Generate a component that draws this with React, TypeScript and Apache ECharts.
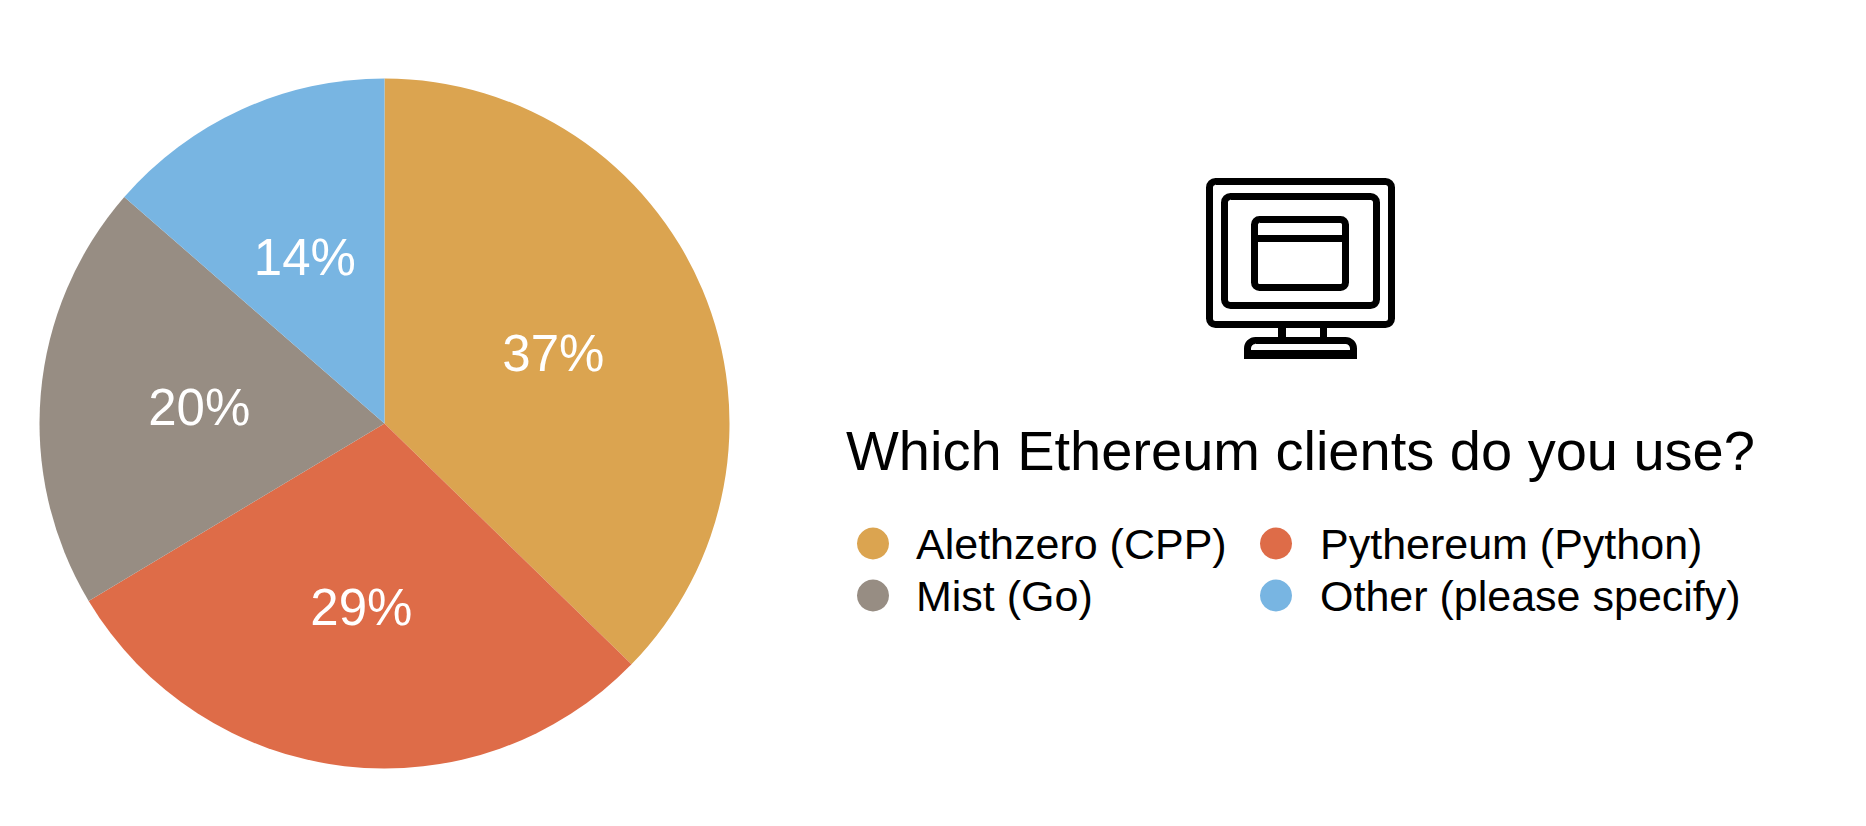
import React, { useEffect, useRef } from "react";
import * as echarts from "echarts";

const categories = ["Alethzero (CPP)", "Pythereum (Python)", "Mist (Go)", "Other (please specify)"];
const values = [37.3, 29.1, 20, 13.6];
const colors = ["#DBA450", "#DE6C48", "#978D83", "#78B5E2"];
const titleText = "Which Ethereum clients do you use?";
const FONT = '"Liberation Sans", Arial, sans-serif';
const CX = 384.5;
const CY = 423.5;

const box = (x: number, y: number, w: number, h: number, r: any) => ({
  type: "rect",
  shape: { x, y, width: w, height: h, r },
  style: { fill: "none", stroke: "#000", lineWidth: 7 },
});
const solid = (x: number, y: number, w: number, h: number) => ({
  type: "rect",
  shape: { x, y, width: w, height: h },
  style: { fill: "#000" },
});

export default function App() {
  const ref = useRef<HTMLDivElement>(null);
  useEffect(() => {
    document.body.style.margin = "0";
    const chart = echarts.init(ref.current!, null, { renderer: "svg" });
    const legendStyle = {
      orient: "vertical",
      icon: "circle",
      itemWidth: 32,
      itemHeight: 32,
      itemGap: 9,
      selectedMode: false,
      padding: 0,
    };
    const legendText = (gap: number) => ({
      fontFamily: FONT,
      fontSize: 43,
      color: "#000",
      padding: [0, 0, 0, gap],
    });
    chart.setOption({
      animation: false,
      backgroundColor: "#fff",
      color: colors,
      title: {
        text: titleText,
        left: 846,
        top: 422,
        padding: 0,
        textStyle: { fontFamily: FONT, fontSize: 56, fontWeight: "normal", color: "#000" },
      },
      legend: [
        { ...legendStyle, left: 857, top: 522, textStyle: legendText(22), data: [categories[0], categories[2]] },
        { ...legendStyle, left: 1260, top: 522, textStyle: legendText(23), data: [categories[1], categories[3]] },
      ],
      series: [
        {
          type: "pie",
          center: [CX, CY],
          radius: [0, 345],
          startAngle: 90,
          clockwise: true,
          data: categories.map((name, i) => ({ name, value: values[i] })),
          label: {
            position: "inside",
            formatter: (p: any) => `${Math.round(p.value)}%`,
            fontFamily: FONT,
            fontSize: 51,
            color: "#fff",
          },
          labelLine: { show: false },
          labelLayout: (p: any) => {
            const mx = p.rect.x + p.rect.width / 2 - CX;
            const my = p.rect.y + p.rect.height / 2 - CY;
            const d = Math.hypot(mx, my) || 1;
            return { dx: (mx / d) * 9 - 1.5, dy: (my / d) * 9 + 1 };
          },
          itemStyle: { borderWidth: 0 },
          emphasis: { disabled: true },
        },
      ],
      graphic: [
        {
          type: "group",
          children: [
            box(1209.5, 181.5, 182, 143, 6),
            box(1224.5, 196.5, 152, 109, 6),
            box(1254.5, 219.5, 91, 68, 5),
            solid(1254, 235, 92, 7),
            solid(1278, 328, 8, 10),
            solid(1320, 328, 7, 10),
            box(1247.5, 340.5, 106, 15, [8, 8, 0, 0]),
            solid(1244, 350, 113, 7),
          ],
        },
      ],
    });
    return () => chart.dispose();
  }, []);
  return <div ref={ref} style={{ width: 1866, height: 826 }} />;
}
